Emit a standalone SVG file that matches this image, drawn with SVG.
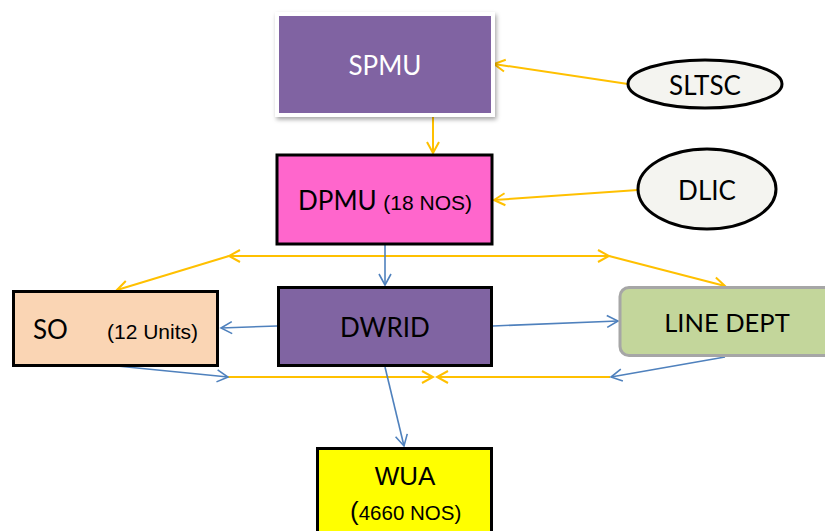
<svg xmlns="http://www.w3.org/2000/svg" width="825" height="531" viewBox="0 0 825 531">
<style>
.cal{font-family:Lato,"Open Sans","Liberation Sans",sans-serif;}
.ari{font-family:"Liberation Sans",Arial,sans-serif;}
.y{stroke:#FFC000;stroke-width:2;fill:none;}
.b{stroke:#4F81BD;stroke-width:1.6;fill:none;}
.box{stroke:#000;stroke-width:3;}
</style>
<defs>
<filter id="sh" x="-10%" y="-10%" width="125%" height="130%">
<feDropShadow dx="1.5" dy="2.5" stdDeviation="2" flood-color="#000" flood-opacity="0.35"/>
</filter>
<marker id="ay" viewBox="-12 -8 14 16" refX="0" refY="0" markerWidth="14" markerHeight="16" markerUnits="userSpaceOnUse" orient="auto-start-reverse">
<path d="M-11,-6 L0,0 L-11,6" fill="none" stroke="#FFC000" stroke-width="2"/>
</marker>
<marker id="ab" viewBox="-12 -8 14 16" refX="0" refY="0" markerWidth="14" markerHeight="16" markerUnits="userSpaceOnUse" orient="auto-start-reverse">
<path d="M-11,-6 L0,0 L-11,6" fill="none" stroke="#4F81BD" stroke-width="1.6"/>
</marker>
</defs>
<rect width="825" height="531" fill="#fff"/>
<g id="connectors">
<path class="y" d="M628,84 L494,64" marker-end="url(#ay)"/>
<path class="y" d="M638,190 L494,200" marker-end="url(#ay)"/>
<path class="y" d="M433,117 L433,153" marker-end="url(#ay)"/>
<path class="y" d="M229,256 L609,256" marker-start="url(#ay)" marker-end="url(#ay)"/>
<path class="y" d="M229,256 L117,290" marker-end="url(#ay)"/>
<path class="y" d="M609,256 L725,286" marker-end="url(#ay)"/>
<path class="y" d="M228,377 L433,377" marker-end="url(#ay)"/>
<path class="y" d="M610,377 L437,377" marker-end="url(#ay)"/>
<path class="b" d="M385,245 L385,285" marker-end="url(#ab)"/>
<path class="b" d="M277,326 L221,328" marker-end="url(#ab)"/>
<path class="b" d="M493,326 L618,321" marker-end="url(#ab)"/>
<path class="b" d="M117,366 L228,377" marker-end="url(#ab)"/>
<path class="b" d="M725,357 L611,377" marker-end="url(#ab)"/>
<path class="b" d="M385,367 L404,446" marker-end="url(#ab)"/>
</g>
<g id="spmu">
<rect x="277" y="14" width="216" height="101" fill="#8064A2" stroke="#fff" stroke-width="4" filter="url(#sh)"/>
<text class="cal" x="385" y="75" font-size="26" fill="#fff" text-anchor="middle">SPMU</text>
</g>
<g id="sltsc">
<ellipse cx="705" cy="84" rx="77" ry="24" fill="#F4F4F0" stroke="#000" stroke-width="3"/>
<text class="cal" x="705" y="95" font-size="26" fill="#000" text-anchor="middle">SLTSC</text>
</g>
<g id="dpmu">
<rect class="box" x="277" y="155" width="215" height="89" fill="#FF66CC"/>
<text x="385" y="210" text-anchor="middle" fill="#000"><tspan class="cal" font-size="26">DPMU </tspan><tspan class="ari" font-size="21">(18 NOS)</tspan></text>
</g>
<g id="dlic">
<ellipse cx="707" cy="189" rx="69" ry="40" fill="#F4F4F0" stroke="#000" stroke-width="3"/>
<text class="cal" x="707" y="200" font-size="26" fill="#000" text-anchor="middle">DLIC</text>
</g>
<g id="so">
<rect class="box" x="13.5" y="291.5" width="204" height="74" fill="#FAD5B4"/>
<text class="cal" x="33" y="339" font-size="26" fill="#000">SO</text>
<text class="ari" x="107" y="339" font-size="21" fill="#000">(12 Units)</text>
</g>
<g id="dwrid">
<rect class="box" x="278.5" y="287.5" width="213" height="78" fill="#8064A2"/>
<text class="cal" x="385" y="337" font-size="26" fill="#000" text-anchor="middle">DWRID</text>
</g>
<g id="linedept">
<rect x="620" y="287.5" width="220" height="68" rx="9" fill="#C3D69B" stroke="#A6A6A6" stroke-width="3"/>
<text class="cal" x="727" y="332" font-size="25.5" fill="#000" text-anchor="middle">LINE DEPT</text>
</g>
<g id="wua">
<rect class="box" x="317.5" y="448.5" width="174" height="100" fill="#FFFF00"/>
<text class="ari" x="405" y="485" font-size="26" fill="#000" text-anchor="middle">WUA</text>
<text x="350" y="520" fill="#000"><tspan class="ari" font-size="26">(</tspan><tspan class="ari" font-size="20.5">4660 NOS)</tspan></text>
</g>
</svg>
